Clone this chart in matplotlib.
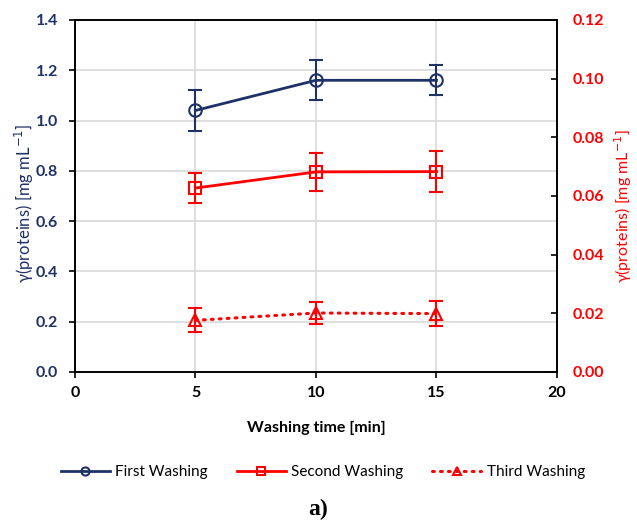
import matplotlib
matplotlib.use('Agg')
import matplotlib.pyplot as plt

NAVY = '#1F3268'
RED = '#FF0000'

times = [5, 10, 15]

first = [1.04, 1.16, 1.16]
first_err = [0.08, 0.08, 0.06]

second = [0.0627, 0.0682, 0.0683]
second_err = [0.0052, 0.0065, 0.007]

third = [0.0176, 0.0201, 0.0199]
third_err = [0.0041, 0.0037, 0.0043]

left_ticks = [0.0, 0.2, 0.4, 0.6, 0.8, 1.0, 1.2, 1.4]
right_ticks = [0.00, 0.02, 0.04, 0.06, 0.08, 0.10, 0.12]
x_ticks = [0, 5, 10, 15, 20]

plt.rcParams['font.family'] = ['Lato', 'DejaVu Sans']

fig = plt.figure(figsize=(6.37, 5.28), dpi=100)
ax = fig.add_axes([0.1177, 0.2955, 0.7567, 0.6667])
ax2 = ax.twinx()

ax.set_xlim(0, 20)
ax.set_ylim(0, 1.4)
ax2.set_ylim(0, 0.12)

ax.set_xticks(x_ticks)
ax.set_yticks(left_ticks)
ax.set_yticklabels([f'{v:.1f}' for v in left_ticks])
ax2.set_yticks(right_ticks)
ax2.set_yticklabels([f'{v:.2f}' for v in right_ticks])

ax.grid(True, color='#d9d9d9', linewidth=1.2)
ax.set_axisbelow(True)

for a in (ax, ax2):
    for s in a.spines.values():
        s.set_color('black')
        s.set_linewidth(1.2)

ax.tick_params(axis='y', direction='out', labelsize=11.5, length=4, width=1.2, pad=8)
ax.tick_params(axis='x', direction='out', labelsize=11.5, length=4, width=1.2, pad=6)
ax2.tick_params(axis='y', direction='in', labelsize=11.5, length=4, width=1.2, pad=11)
for lab in ax.get_yticklabels():
    lab.set_fontweight('bold')
    lab.set_color(NAVY)
for lab in ax.get_xticklabels():
    lab.set_fontweight('bold')
for lab in ax2.get_yticklabels():
    lab.set_fontweight('bold')
    lab.set_color(RED)

h1 = ax.errorbar(times, first, yerr=first_err, color=NAVY, marker='o', markersize=9,
                 markerfacecolor='none', markeredgewidth=1.5, linewidth=2,
                 capsize=5, elinewidth=1.5, capthick=1.5, label='First Washing')
h2 = ax2.errorbar(times, second, yerr=second_err, color=RED, marker='s', markersize=9,
                  markerfacecolor='none', markeredgewidth=1.5, linewidth=2,
                  capsize=5, elinewidth=1.5, capthick=1.5, label='Second Washing')
h3 = ax2.errorbar(times, third, yerr=third_err, color=RED, marker='^', markersize=9,
                  markerfacecolor='none', markeredgewidth=1.5, linewidth=2.2,
                  linestyle=(0, (0.6, 2)),
                  capsize=5, elinewidth=1.5, capthick=1.5, label='Third Washing')
h3.lines[0].set_dash_capstyle('round')

ax.set_xlabel('Washing time [min]', fontsize=11.5, fontweight='bold')
ax.xaxis.set_label_coords(0.5, -0.16)
ax.xaxis.label.set_va('center')

ax.set_ylabel('γ(proteins) [mg mL$^{-1}$]', fontsize=12, color=NAVY)
ax.yaxis.set_label_coords(-0.104, 0.48)
ax.yaxis.label.set_va('center')
ax2.set_ylabel('γ(proteins) [mg mL$^{-1}$]', fontsize=11.5, color=RED)
ax2.yaxis.set_label_coords(1.138, 0.47)
ax2.yaxis.label.set_va('center')

fig.legend(handles=[h1.lines[0], h2.lines[0], h3.lines[0]],
           labels=['First Washing', 'Second Washing', 'Third Washing'],
           loc='center', bbox_to_anchor=(0.507, 0.106), ncol=3,
           frameon=False, fontsize=11, handlelength=3.2, columnspacing=1.9,
           handletextpad=0.35, markerscale=0.65)

fig.text(0.5, 0.035, 'a)', ha='center', va='center', fontsize=17, fontweight='bold',
         family='Liberation Serif')

fig.savefig('out.png', dpi=100)
